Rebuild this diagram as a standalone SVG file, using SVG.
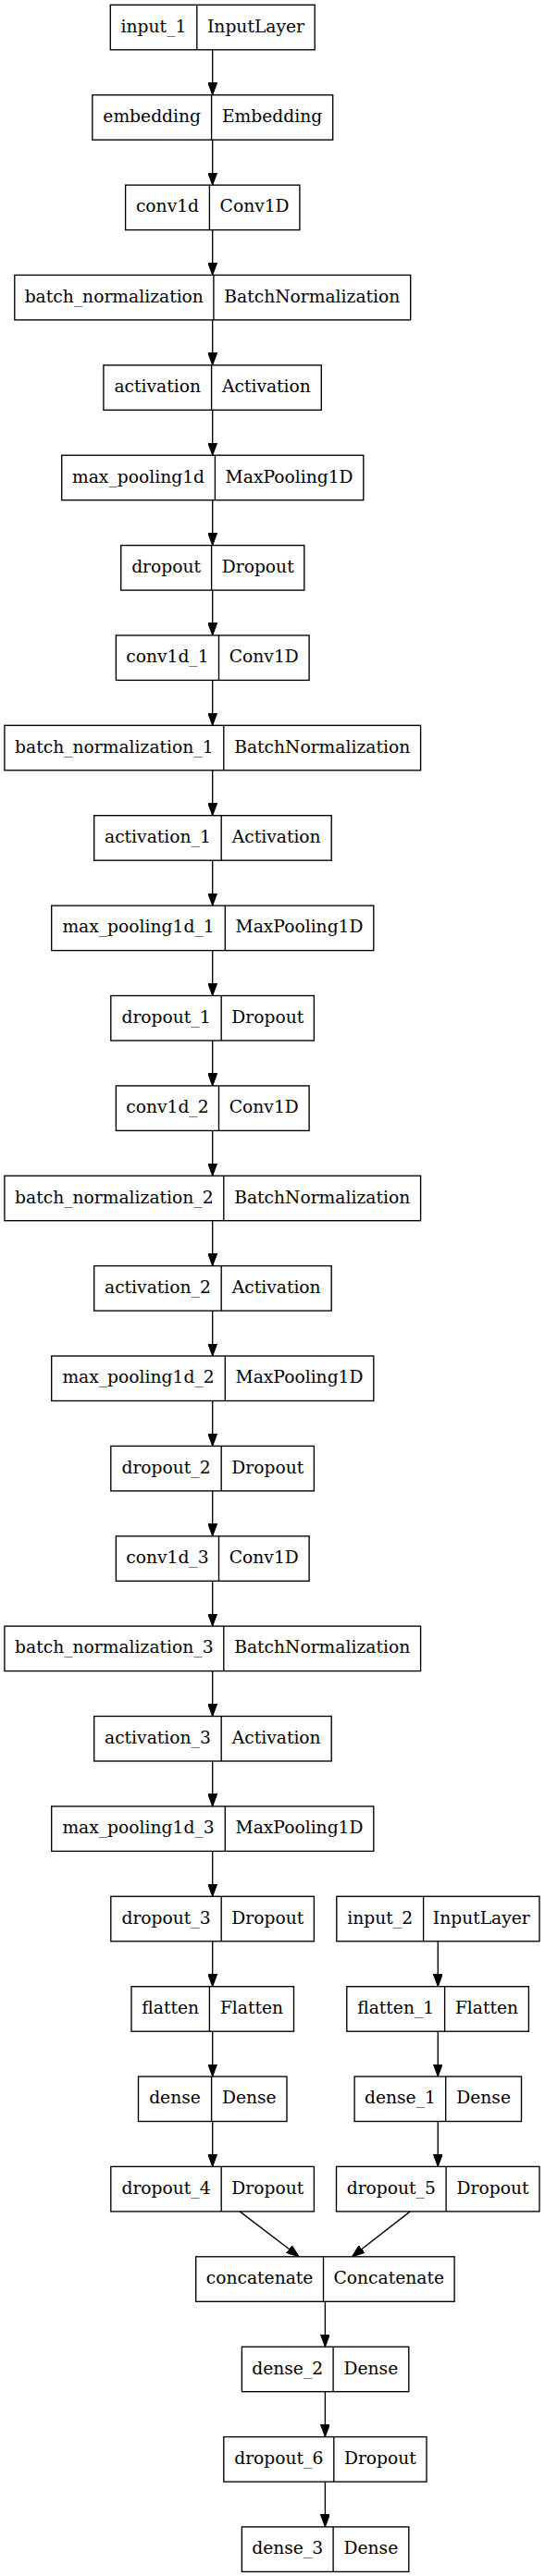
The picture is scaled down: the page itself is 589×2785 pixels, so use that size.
<svg xmlns="http://www.w3.org/2000/svg" width="589" height="2785" viewBox="0 0 589 2785">
<style>
.n rect{fill:#fff;stroke:#000;stroke-width:1.35}
.n line{stroke:#000;stroke-width:1.35}
.n text{font-family:"DejaVu Serif","Liberation Serif",serif;font-size:18.7px;text-anchor:middle;fill:#000}
#edges path{fill:none;stroke:#000;stroke-width:1.35;marker-end:url(#ah)}
</style>
<defs>
<marker id="ah" markerUnits="userSpaceOnUse" markerWidth="14" markerHeight="10" refX="13.5" refY="5" orient="auto" viewBox="0 0 14 10">
<path d="M0,0 L13.5,5 L0,10 z" fill="#000" stroke="#000" stroke-width="1"/>
</marker>
</defs>
<rect width="589" height="2785" fill="#fff"/>
<g id="edges">
<path d="M229.7,53.8V102.7"/>
<path d="M229.7,151.2V200.1"/>
<path d="M229.7,248.6V297.4"/>
<path d="M229.7,345.9V394.8"/>
<path d="M229.7,443.3V492.2"/>
<path d="M229.7,540.7V589.6"/>
<path d="M229.7,638.1V686.9"/>
<path d="M229.7,735.4V784.3"/>
<path d="M229.7,832.8V881.7"/>
<path d="M229.7,930.2V979.1"/>
<path d="M229.7,1027.6V1076.5"/>
<path d="M229.7,1125V1173.9"/>
<path d="M229.7,1222.4V1271.2"/>
<path d="M229.7,1319.7V1368.6"/>
<path d="M229.7,1417.1V1466"/>
<path d="M229.7,1514.5V1563.4"/>
<path d="M229.7,1611.9V1660.8"/>
<path d="M229.7,1709.3V1758.1"/>
<path d="M229.7,1806.6V1855.5"/>
<path d="M229.7,1904V1952.9"/>
<path d="M229.7,2001.4V2050.3"/>
<path d="M229.7,2098.8V2147.7"/>
<path d="M229.7,2196.2V2245"/>
<path d="M229.7,2293.5V2342.4"/>
<path d="M473.3,2098.8V2147.7"/>
<path d="M473.3,2196.2V2245"/>
<path d="M473.3,2293.5V2342.4"/>
<path d="M259.1,2390.9L323.2,2439.8"/>
<path d="M443.3,2390.9L380.4,2439.8"/>
<path d="M351.4,2488.3V2537.2"/>
<path d="M351.4,2585.7V2634.6"/>
<path d="M351.4,2683.1V2731.9"/>
</g>
<g id="input_1" class="n"><rect x="119.3" y="5.3" width="220.9" height="48.5"/><line x1="212.8" y1="5.3" x2="212.8" y2="53.8"/><text x="166" y="34.6">input_1</text><text x="276.5" y="34.6">InputLayer</text></g>
<g id="embedding" class="n"><rect x="99.8" y="102.7" width="259.9" height="48.5"/><line x1="228.6" y1="102.7" x2="228.6" y2="151.2"/><text x="164.2" y="132">embedding</text><text x="294.1" y="132">Embedding</text></g>
<g id="conv1d" class="n"><rect x="135.6" y="200.1" width="188.3" height="48.5"/><line x1="226.4" y1="200.1" x2="226.4" y2="248.6"/><text x="181" y="229.4">conv1d</text><text x="275.1" y="229.4">Conv1D</text></g>
<g id="batch_normalization" class="n"><rect x="15.8" y="297.4" width="427.9" height="48.5"/><line x1="230.9" y1="297.4" x2="230.9" y2="345.9"/><text x="123.3" y="326.7">batch_normalization</text><text x="337.3" y="326.7">BatchNormalization</text></g>
<g id="activation" class="n"><rect x="111.9" y="394.8" width="235.4" height="48.5"/><line x1="228.6" y1="394.8" x2="228.6" y2="443.3"/><text x="170.2" y="424.1">activation</text><text x="287.9" y="424.1">Activation</text></g>
<g id="max_pooling1d" class="n"><rect x="66.7" y="492.2" width="326.1" height="48.5"/><line x1="232.4" y1="492.2" x2="232.4" y2="540.7"/><text x="149.5" y="521.5">max_pooling1d</text><text x="312.6" y="521.5">MaxPooling1D</text></g>
<g id="dropout" class="n"><rect x="130.7" y="589.6" width="198.1" height="48.5"/><line x1="228.6" y1="589.6" x2="228.6" y2="638.1"/><text x="179.6" y="618.9">dropout</text><text x="278.7" y="618.9">Dropout</text></g>
<g id="conv1d_1" class="n"><rect x="125.4" y="686.9" width="208.7" height="48.5"/><line x1="236.5" y1="686.9" x2="236.5" y2="735.4"/><text x="180.9" y="716.2">conv1d_1</text><text x="285.3" y="716.2">Conv1D</text></g>
<g id="batch_normalization_1" class="n"><rect x="4.9" y="784.3" width="449.7" height="48.5"/><line x1="241.8" y1="784.3" x2="241.8" y2="832.8"/><text x="123.3" y="813.6">batch_normalization_1</text><text x="348.2" y="813.6">BatchNormalization</text></g>
<g id="activation_1" class="n"><rect x="101.7" y="881.7" width="256.5" height="48.5"/><line x1="239.2" y1="881.7" x2="239.2" y2="930.2"/><text x="170.4" y="911">activation_1</text><text x="298.7" y="911">Activation</text></g>
<g id="max_pooling1d_1" class="n"><rect x="55.7" y="979.1" width="348.1" height="48.5"/><line x1="243.3" y1="979.1" x2="243.3" y2="1027.6"/><text x="149.5" y="1008.4">max_pooling1d_1</text><text x="323.5" y="1008.4">MaxPooling1D</text></g>
<g id="dropout_1" class="n"><rect x="119.8" y="1076.5" width="219.6" height="48.5"/><line x1="239.2" y1="1076.5" x2="239.2" y2="1125"/><text x="179.5" y="1105.8">dropout_1</text><text x="289.3" y="1105.8">Dropout</text></g>
<g id="conv1d_2" class="n"><rect x="125.4" y="1173.9" width="208.7" height="48.5"/><line x1="236.5" y1="1173.9" x2="236.5" y2="1222.4"/><text x="180.9" y="1203.2">conv1d_2</text><text x="285.3" y="1203.2">Conv1D</text></g>
<g id="batch_normalization_2" class="n"><rect x="4.9" y="1271.2" width="449.7" height="48.5"/><line x1="241.8" y1="1271.2" x2="241.8" y2="1319.7"/><text x="123.3" y="1300.5">batch_normalization_2</text><text x="348.2" y="1300.5">BatchNormalization</text></g>
<g id="activation_2" class="n"><rect x="101.7" y="1368.6" width="256.5" height="48.5"/><line x1="239.2" y1="1368.6" x2="239.2" y2="1417.1"/><text x="170.4" y="1397.9">activation_2</text><text x="298.7" y="1397.9">Activation</text></g>
<g id="max_pooling1d_2" class="n"><rect x="55.7" y="1466" width="348.1" height="48.5"/><line x1="243.3" y1="1466" x2="243.3" y2="1514.5"/><text x="149.5" y="1495.3">max_pooling1d_2</text><text x="323.5" y="1495.3">MaxPooling1D</text></g>
<g id="dropout_2" class="n"><rect x="119.8" y="1563.4" width="219.6" height="48.5"/><line x1="239.2" y1="1563.4" x2="239.2" y2="1611.9"/><text x="179.5" y="1592.7">dropout_2</text><text x="289.3" y="1592.7">Dropout</text></g>
<g id="conv1d_3" class="n"><rect x="125.4" y="1660.8" width="208.7" height="48.5"/><line x1="236.5" y1="1660.8" x2="236.5" y2="1709.3"/><text x="180.9" y="1690.1">conv1d_3</text><text x="285.3" y="1690.1">Conv1D</text></g>
<g id="batch_normalization_3" class="n"><rect x="4.9" y="1758.1" width="449.7" height="48.5"/><line x1="241.8" y1="1758.1" x2="241.8" y2="1806.6"/><text x="123.3" y="1787.4">batch_normalization_3</text><text x="348.2" y="1787.4">BatchNormalization</text></g>
<g id="activation_3" class="n"><rect x="101.7" y="1855.5" width="256.5" height="48.5"/><line x1="239.2" y1="1855.5" x2="239.2" y2="1904"/><text x="170.4" y="1884.8">activation_3</text><text x="298.7" y="1884.8">Activation</text></g>
<g id="max_pooling1d_3" class="n"><rect x="55.7" y="1952.9" width="348.1" height="48.5"/><line x1="243.3" y1="1952.9" x2="243.3" y2="2001.4"/><text x="149.5" y="1982.2">max_pooling1d_3</text><text x="323.5" y="1982.2">MaxPooling1D</text></g>
<g id="dropout_3" class="n"><rect x="119.8" y="2050.3" width="219.6" height="48.5"/><line x1="239.2" y1="2050.3" x2="239.2" y2="2098.8"/><text x="179.5" y="2079.6">dropout_3</text><text x="289.3" y="2079.6">Dropout</text></g>
<g id="input_2" class="n"><rect x="363.8" y="2050.3" width="219.2" height="48.5"/><line x1="457.6" y1="2050.3" x2="457.6" y2="2098.8"/><text x="410.7" y="2079.6">input_2</text><text x="520.3" y="2079.6">InputLayer</text></g>
<g id="flatten" class="n"><rect x="142" y="2147.7" width="175.5" height="48.5"/><line x1="226.4" y1="2147.7" x2="226.4" y2="2196.2"/><text x="184.2" y="2177">flatten</text><text x="272" y="2177">Flatten</text></g>
<g id="flatten_1" class="n"><rect x="374.8" y="2147.7" width="196.6" height="48.5"/><line x1="480.6" y1="2147.7" x2="480.6" y2="2196.2"/><text x="427.7" y="2177">flatten_1</text><text x="526" y="2177">Flatten</text></g>
<g id="dense" class="n"><rect x="149.5" y="2245" width="160.5" height="48.5"/><line x1="228.6" y1="2245" x2="228.6" y2="2293.5"/><text x="189" y="2274.3">dense</text><text x="269.3" y="2274.3">Dense</text></g>
<g id="dense_1" class="n"><rect x="383.1" y="2245" width="180.4" height="48.5"/><line x1="481.7" y1="2245" x2="481.7" y2="2293.5"/><text x="432.4" y="2274.3">dense_1</text><text x="522.6" y="2274.3">Dense</text></g>
<g id="dropout_4" class="n"><rect x="119.8" y="2342.4" width="219.6" height="48.5"/><line x1="239.2" y1="2342.4" x2="239.2" y2="2390.9"/><text x="179.5" y="2371.7">dropout_4</text><text x="289.3" y="2371.7">Dropout</text></g>
<g id="dropout_5" class="n"><rect x="363.5" y="2342.4" width="219.5" height="48.5"/><line x1="482.1" y1="2342.4" x2="482.1" y2="2390.9"/><text x="422.8" y="2371.7">dropout_5</text><text x="532.5" y="2371.7">Dropout</text></g>
<g id="concatenate" class="n"><rect x="211.7" y="2439.8" width="279.4" height="48.5"/><line x1="349.5" y1="2439.8" x2="349.5" y2="2488.3"/><text x="280.6" y="2469.1">concatenate</text><text x="420.3" y="2469.1">Concatenate</text></g>
<g id="dense_2" class="n"><rect x="261.4" y="2537.2" width="180.4" height="48.5"/><line x1="360.1" y1="2537.2" x2="360.1" y2="2585.7"/><text x="310.7" y="2566.5">dense_2</text><text x="400.9" y="2566.5">Dense</text></g>
<g id="dropout_6" class="n"><rect x="241.8" y="2634.6" width="219.2" height="48.5"/><line x1="360.8" y1="2634.6" x2="360.8" y2="2683.1"/><text x="301.3" y="2663.9">dropout_6</text><text x="410.9" y="2663.9">Dropout</text></g>
<g id="dense_3" class="n"><rect x="261.4" y="2731.9" width="180.4" height="48.5"/><line x1="360.1" y1="2731.9" x2="360.1" y2="2780.4"/><text x="310.7" y="2761.2">dense_3</text><text x="400.9" y="2761.2">Dense</text></g>
</svg>
